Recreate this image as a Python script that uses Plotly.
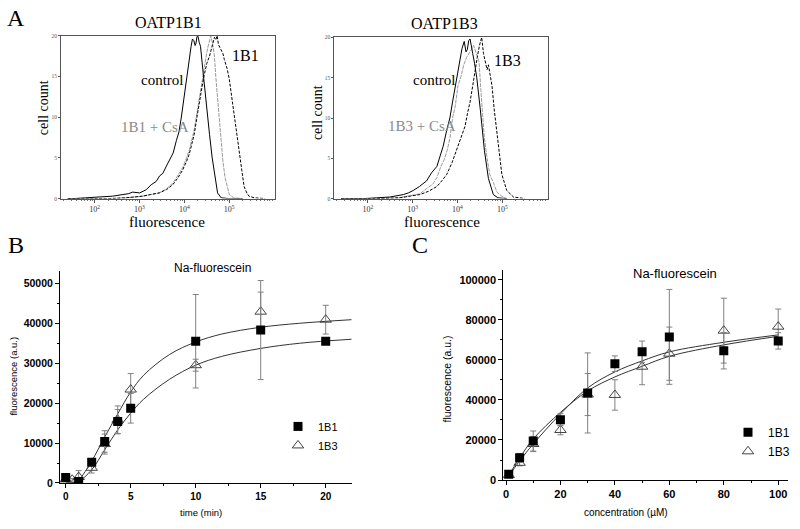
import numpy as np
import plotly.graph_objects as go

W, H = 800, 529

# ---------------- Panel A data: histograms (log10 fluorescence, cell count) ----------------
a1_ctrl_log = [1.40, 1.52, 1.80, 2.11, 2.40, 2.63, 2.75, 2.85, 3.00, 3.08, 3.15, 3.26, 3.37, 3.45, 3.52, 3.60,
               3.67, 3.75, 3.82, 3.88, 3.93, 4.00, 4.07, 4.12, 4.15, 4.18, 4.21, 4.24, 4.26, 4.28, 4.30,
               4.33, 4.36, 4.41, 4.48, 4.56, 4.62, 4.67, 4.74, 4.82, 5.00, 5.30]
a1_ctrl_cnt = [0.0, 0.0, 0.1, 0.2, 0.3, 0.5, 0.6, 0.8, 0.7, 0.9, 1.1, 1.7, 2.1, 2.8, 3.1, 4.0,
               4.7, 5.6, 7.1, 8.2, 9.9, 12.7, 15.9, 17.6, 18.7, 19.6, 19.4, 18.8, 19.1, 19.9, 20.0,
               19.2, 18.7, 15.9, 11.9, 7.9, 5.0, 3.1, 0.7, 0.1, 0.0, 0.0]

a1_sub_log = [1.40, 2.00, 2.33, 2.70, 3.07, 3.25, 3.44, 3.60, 3.74, 3.85, 3.96, 4.05, 4.11, 4.17, 4.22, 4.28,
              4.33, 4.39, 4.44, 4.50, 4.56, 4.60, 4.63, 4.67, 4.70, 4.73, 4.76, 4.79, 4.82, 4.86, 4.89,
              4.95, 5.00, 5.05, 5.11, 5.17, 5.22, 5.28, 5.33, 5.40, 5.44, 5.56, 5.80]
a1_sub_cnt = [0.0, 0.0, 0.0, 0.1, 0.3, 0.5, 0.7, 1.1, 1.7, 2.5, 3.5, 4.6, 5.5, 6.8, 7.9, 10.0,
              11.9, 13.6, 15.1, 16.6, 17.5, 18.3, 18.7, 19.8, 19.5, 20.0, 18.9, 18.6, 18.3, 17.8, 17.1,
              16.0, 14.7, 12.8, 10.7, 8.2, 5.9, 3.5, 1.5, 0.6, 0.3, 0.1, 0.0]

a1_csa_log = [1.40, 2.00, 2.33, 2.70, 3.07, 3.25, 3.44, 3.60, 3.74, 3.85, 3.96, 4.05, 4.11, 4.17, 4.22, 4.28,
              4.33, 4.39, 4.44, 4.48, 4.52, 4.56, 4.59, 4.63, 4.67, 4.70, 4.74, 4.78, 4.82, 4.86, 4.91,
              5.00, 5.10, 5.30]
a1_csa_cnt = [0.0, 0.0, 0.0, 0.1, 0.3, 0.5, 0.7, 1.2, 1.9, 2.8, 3.8, 5.0, 6.0, 7.3, 8.5, 10.5,
              12.3, 14.5, 16.0, 17.3, 18.5, 19.2, 20.0, 19.0, 17.5, 15.0, 12.5, 9.5, 7.0, 4.5, 2.5,
              0.5, 0.1, 0.0]

a3_ctrl_log = [1.40, 1.90, 2.20, 2.49, 2.79, 2.90, 3.01, 3.15, 3.31, 3.42, 3.54, 3.61, 3.68, 3.76, 3.83, 3.89,
               3.95, 4.00, 4.06, 4.10, 4.15, 4.19, 4.22, 4.25, 4.28, 4.31, 4.34, 4.38, 4.43, 4.51, 4.60,
               4.69, 4.80, 4.90, 5.10]
a3_ctrl_cnt = [0.0, 0.0, 0.1, 0.2, 0.5, 0.7, 1.0, 1.5, 2.2, 3.2, 4.0, 5.4, 6.5, 8.5, 10.0, 12.0,
               14.0, 15.5, 17.5, 18.6, 19.5, 18.2, 18.5, 19.6, 19.8, 18.7, 18.0, 16.8, 15.0, 11.0, 6.0,
               2.5, 0.5, 0.1, 0.0]

a3_sub_log = [1.40, 2.20, 2.70, 3.00, 3.16, 3.35, 3.54, 3.65, 3.76, 3.88, 3.98, 4.08, 4.17, 4.22, 4.28, 4.34,
              4.39, 4.44, 4.49, 4.54, 4.58, 4.62, 4.66, 4.69, 4.73, 4.77, 4.82, 4.88, 4.94, 4.99, 5.10,
              5.25, 5.50]
a3_sub_cnt = [0.0, 0.0, 0.1, 0.3, 0.5, 0.9, 1.5, 2.2, 3.0, 4.5, 6.0, 7.5, 9.0, 10.5, 12.0, 14.0,
              16.0, 17.5, 19.0, 20.0, 18.0, 17.0, 16.0, 16.6, 15.5, 14.0, 11.0, 8.0, 5.0, 3.0, 1.0,
              0.2, 0.0]

a3_csa_log = [1.40, 2.20, 2.70, 3.00, 3.16, 3.30, 3.45, 3.54, 3.63, 3.70, 3.77, 3.83, 3.89, 3.95, 4.01, 4.08,
              4.14, 4.20, 4.24, 4.30, 4.36, 4.42, 4.48, 4.54, 4.60, 4.66, 4.72, 4.80, 4.88, 4.99, 5.10]
a3_csa_cnt = [0.0, 0.0, 0.1, 0.4, 0.6, 1.2, 1.8, 2.6, 4.0, 4.8, 6.0, 7.5, 10.0, 11.5, 14.0, 15.2,
              16.6, 17.5, 17.8, 18.4, 19.0, 18.0, 17.0, 12.0, 7.5, 5.0, 3.0, 2.0, 0.8, 0.3, 0.0]

a_tick_exp = [2, 3, 4, 5]
a_count_ticks = [0, 5, 10, 15, 20]

# ---------------- Panel B data: time course ----------------
b_t_1b1 = [0, 1, 2, 3, 4, 5, 10, 15, 20]
b_y_1b1 = [1400, 400, 5200, 10400, 15400, 18700, 35500, 38300, 35500]
b_e_1b1 = [300, 300, 600, 2700, 3000, 3700, 11700, 12400, 600]

b_t_1b3 = [0, 0.5, 1, 2, 3, 4, 5, 10, 15, 20]
b_y_1b3 = [900, 800, 1500, 3800, 9750, 15800, 23400, 29500, 42900, 40900]
b_e_1b3 = [400, 300, 1600, 1300, 2500, 3500, 4000, 1500, 4900, 3600]

b_fit_t = [0.5, 1, 2, 3, 4, 5, 6, 8, 10, 12, 15, 18, 22]
b_fit_hi = [0, 800, 5500, 11500, 17300, 22800, 27000, 32200, 35300, 37300, 39000, 40000, 40900]
b_fit_lo = [0, 400, 3300, 8300, 13300, 17500, 21000, 26000, 29500, 31700, 33700, 35000, 36000]

# ---------------- Panel C data: concentration dependence ----------------
c_x = [1, 5, 10, 20, 30, 40, 50, 60, 80, 100]
c_y_1b1 = [2900, 11100, 19500, 30100, 43500, 58100, 64100, 71500, 64600, 69500]
c_e_1b1 = [800, 2200, 5000, 3000, 20000, 3900, 5300, 23700, 9100, 4100]
c_y_1b3 = [2500, 8600, 18000, 25000, 42700, 42500, 56600, 63100, 74600, 76600]
c_e_1b3 = [700, 1500, 3800, 2400, 10500, 7600, 9000, 13300, 16200, 8800]

c_fit_x = [1, 5, 10, 20, 30, 40, 50, 60, 80, 100]
c_fit_p = [2300, 11000, 20500, 33800, 44500, 51500, 56800, 61800, 67500, 71800]
c_fit_q = [2000, 9500, 18000, 33000, 46000, 54000, 59500, 64000, 68800, 72500]


def px(x):
    return x / W


def py(y):
    return 1 - y / H


SERIF = "Liberation Serif"
SANS = "Liberation Sans"

fig = go.Figure()

# ---- Panel A histograms
hist_style = {
    "ctrl": dict(color="black", width=1),
    "sub": dict(color="black", width=1, dash="3px,1.5px"),
    "csa": dict(color="#9a9a9a", width=1, dash="4px,1px"),
}
for (lg, cn, key, ax) in [
    (a1_csa_log, a1_csa_cnt, "csa", 1), (a1_sub_log, a1_sub_cnt, "sub", 1), (a1_ctrl_log, a1_ctrl_cnt, "ctrl", 1),
    (a3_csa_log, a3_csa_cnt, "csa", 2), (a3_sub_log, a3_sub_cnt, "sub", 2), (a3_ctrl_log, a3_ctrl_cnt, "ctrl", 2),
]:
    sfx = "" if ax == 1 else "2"
    fig.add_trace(go.Scatter(x=10 ** np.array(lg), y=cn, mode="lines", line=hist_style[key],
                             xaxis="x" + sfx, yaxis="y" + sfx, showlegend=False, hoverinfo="skip"))

# ---- Panel B
err_col = "#808080"
fig.add_trace(go.Scatter(x=b_fit_t, y=b_fit_hi, mode="lines", line=dict(color="#333", width=1, shape="spline"),
                         xaxis="x3", yaxis="y3", showlegend=False))
fig.add_trace(go.Scatter(x=b_fit_t, y=b_fit_lo, mode="lines", line=dict(color="#333", width=1, shape="spline"),
                         xaxis="x3", yaxis="y3", showlegend=False))
fig.add_trace(go.Scatter(x=b_t_1b3, y=b_y_1b3, mode="markers", name="1B3",
                         marker=dict(symbol="triangle-up-open", size=10, color="#444", line=dict(width=1)),
                         error_y=dict(type="data", array=b_e_1b3, color=err_col, thickness=1, width=3),
                         xaxis="x3", yaxis="y3", legend="legend"))
fig.add_trace(go.Scatter(x=b_t_1b1, y=b_y_1b1, mode="markers", name="1B1",
                         marker=dict(symbol="square", size=9, color="black"),
                         error_y=dict(type="data", array=b_e_1b1, color=err_col, thickness=1, width=3),
                         xaxis="x3", yaxis="y3", legend="legend"))

# ---- Panel C
fig.add_trace(go.Scatter(x=c_fit_x, y=c_fit_p, mode="lines", line=dict(color="#333", width=1, shape="spline"),
                         xaxis="x4", yaxis="y4", showlegend=False))
fig.add_trace(go.Scatter(x=c_fit_x, y=c_fit_q, mode="lines", line=dict(color="#333", width=1, shape="spline"),
                         xaxis="x4", yaxis="y4", showlegend=False))
fig.add_trace(go.Scatter(x=c_x, y=c_y_1b3, mode="markers", name="1B3",
                         marker=dict(symbol="triangle-up-open", size=10, color="#444", line=dict(width=1)),
                         error_y=dict(type="data", array=c_e_1b3, color=err_col, thickness=1, width=3),
                         xaxis="x4", yaxis="y4", legend="legend2"))
fig.add_trace(go.Scatter(x=c_x, y=c_y_1b1, mode="markers", name="1B1",
                         marker=dict(symbol="square", size=9, color="black"),
                         error_y=dict(type="data", array=c_e_1b1, color=err_col, thickness=1, width=3),
                         xaxis="x4", yaxis="y4", legend="legend2"))

# ---- axes
minor_log = [m * 10 ** d for d in range(1, 7) for m in range(2, 10)]


def a_xaxis(dom):
    return dict(domain=dom, type="log", range=[1.25, 6.02], showline=True, linecolor="#555", linewidth=1,
                mirror=True, ticks="outside", ticklen=3, tickcolor="#555",
                tickvals=[10 ** e for e in a_tick_exp],
                ticktext=["10<sup>%d</sup>" % e for e in a_tick_exp],
                tickfont=dict(family=SERIF, size=8, color="#333"),
                minor=dict(ticks="outside", ticklen=1.5, tickcolor="#777", tickvals=minor_log),
                showgrid=False, zeroline=False, fixedrange=True)


def a_yaxis(dom, anchor):
    return dict(domain=dom, range=[0, 20], anchor=anchor, showline=True, linecolor="#555", linewidth=1,
                mirror=True, ticks="outside", ticklen=2, tickcolor="#555", tickvals=a_count_ticks,
                tickfont=dict(family=SERIF, size=5.5, color="#555"), showgrid=False, zeroline=False)


lin_common = dict(showline=True, linecolor="black", linewidth=1, ticks="outside", ticklen=4, tickwidth=1,
                  tickcolor="black", showgrid=False, zeroline=False, mirror=False)

fig.update_layout(
    width=W, height=H, margin=dict(l=0, r=0, t=0, b=0),
    paper_bgcolor="white", plot_bgcolor="white",
    xaxis=a_xaxis([px(61), px(275)]),
    yaxis=a_yaxis([py(199), py(33.3)], "x"),
    xaxis2=dict(a_xaxis([px(334.3), px(548)]), anchor="y2"),
    yaxis2=a_yaxis([py(199), py(35)], "x2"),
    xaxis3=dict(lin_common, domain=[px(60), px(351.7)], range=[-0.437, 22.0], anchor="y3",
                tickvals=[0, 5, 10, 15, 20],
                tickfont=dict(family=SANS, size=10, color="black", weight="bold"),
                minor=dict(ticks="outside", ticklen=2, tickcolor="black", dtick=2.5, tick0=0)),
    yaxis3=dict(lin_common, domain=[py(488.3), py(273)], range=[0, 53000], anchor="x3",
                tickvals=[0, 10000, 20000, 30000, 40000, 50000], tickformat="d",
                tickfont=dict(family=SANS, size=10.5, color="black", weight="bold"),
                minor=dict(ticks="outside", ticklen=2, tickcolor="black", dtick=5000, tick0=0)),
    xaxis4=dict(lin_common, domain=[px(503.3), px(788.3)], range=[-0.99, 103.7], anchor="y4",
                tickvals=[0, 20, 40, 60, 80, 100],
                tickfont=dict(family=SANS, size=11, color="black", weight="bold"),
                minor=dict(ticks="outside", ticklen=2, tickcolor="black", dtick=10, tick0=0)),
    yaxis4=dict(lin_common, domain=[py(485.3), py(271.7)], range=[0, 104860], anchor="x4",
                tickvals=[0, 20000, 40000, 60000, 80000, 100000], tickformat="d",
                tickfont=dict(family=SANS, size=11, color="black", weight="bold"),
                minor=dict(ticks="outside", ticklen=2, tickcolor="black", dtick=10000, tick0=0)),
    legend=dict(x=px(278), y=py(416), xanchor="left", yanchor="top", bgcolor="rgba(0,0,0,0)",
                font=dict(family=SANS, size=11, color="black"), itemwidth=30, tracegroupgap=0,
                traceorder="reversed"),
    legend2=dict(x=px(728), y=py(422), xanchor="left", yanchor="top", bgcolor="rgba(0,0,0,0)",
                 font=dict(family=SANS, size=12, color="black"), itemwidth=30, tracegroupgap=0,
                 traceorder="reversed"),
)

ann = []


def txt(x, y, s, size, family=SERIF, color="black", angle=0, xanchor="center"):
    ann.append(dict(x=px(x), y=py(y), xref="paper", yref="paper", text=s, showarrow=False,
                    font=dict(family=family, size=size, color=color), textangle=angle,
                    xanchor=xanchor, yanchor="middle"))


# Panel letters
txt(16, 15, "A", 24)
txt(16, 246, "B", 24)
txt(420, 246, "C", 24)

# Panel A texts
txt(168, 20, "OATP1B1", 16)
txt(444, 21, "OATP1B3", 16)
txt(230, 53, "1B1", 16, xanchor="left")
txt(492, 58, "1B3", 16, xanchor="left")
txt(162, 78, "control", 15)
txt(435, 78, "control", 15)
txt(155, 126, "1B1 + CsA", 15, color="#8a8a8a")
txt(422, 125, "1B3 + CsA", 15, color="#8a8a8a")
txt(43, 107, "cell count", 14, angle=-90)
txt(317, 112, "cell count", 14, angle=-90)
txt(167, 223, "fluorescence", 15)
txt(442, 223, "fluorescence", 15)

# Panel B texts
txt(212.7, 270, "Na-fluorescein", 12, family=SANS)
txt(14, 380, "fluorescence (a.u.)", 9.5, family=SANS, angle=-90)
txt(201, 518, "time (min)", 9.5, family=SANS)

# Panel C texts
txt(675, 275, "Na-fluorescein", 13, family=SANS)
txt(447, 383, "fluorescence (a.u.)", 10.5, family=SANS, angle=-90)
txt(626, 518, "concentration (\u00b5M)", 10, family=SANS)

fig.update_layout(annotations=ann)
fig.write_html("out.html", config={"displayModeBar": False},
               post_script="document.body.style.margin='0px';document.body.style.padding='0px';")
